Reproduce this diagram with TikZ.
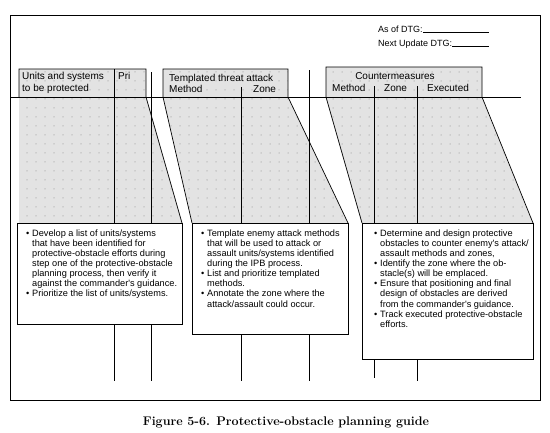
\documentclass[tikz,border=0pt]{standalone}
\usepackage{fontspec}
\usetikzlibrary{patterns.meta}
\newfontfamily\hv{Liberation Sans}
\begin{document}
\begin{tikzpicture}[x=1pt,y=-1pt,
  graybox/.style={fill=black!11,draw=none},
  dotted grid/.style={pattern={Dots[distance=9pt,radius=0.75pt]},pattern color=black!28},
  edge/.style={line width=0.7pt},
  rule/.style={line width=0.9pt},
  infobox/.style={fill=white,draw,line width=0.9pt},
  tabtxt/.style={font=\hv\fontsize{10}{12}\selectfont,inner sep=0pt,anchor=base west},
  boxtxt/.style={font=\hv\fontsize{9.2}{10.1}\selectfont,inner sep=0pt,anchor=north west,align=left},
  hdrtxt/.style={font=\hv\fontsize{9}{10}\selectfont,inner sep=0pt,anchor=base west}]
\useasboundingbox (0,0) rectangle (550,432);
% outer frame
\draw[line width=0.6pt] (10,15) rectangle (540,400);
% gray areas
\fill[graybox] (19,69) -- (146,69) -- (146,97) -- (182,223) -- (19,223) -- cycle;
\fill[graybox] (163,69) -- (288,69) -- (288,97) -- (348,223) -- (192,223) -- (163,97) -- cycle;
\fill[graybox] (326,67) -- (482,67) -- (482,97) -- (533,223) -- (362,223) -- (326,97) -- cycle;
\fill[dotted grid] (19,69) -- (146,69) -- (146,97) -- (182,223) -- (19,223) -- cycle;
\fill[dotted grid] (163,69) -- (288,69) -- (288,97) -- (348,223) -- (192,223) -- (163,97) -- cycle;
\fill[dotted grid] (326,67) -- (482,67) -- (482,97) -- (533,223) -- (362,223) -- (326,97) -- cycle;
% column lines
\draw[rule] (114.5,69) -- (114.5,381);
\draw[rule] (151,72) -- (151,381);
\draw[rule] (241.5,87) -- (241.5,381);
\draw[rule] (309.5,70) -- (309.5,381);
\draw[rule] (374,86) -- (374,378);
\draw[rule] (417,86) -- (417,381);
% horizontal rule
\draw[rule] (11,97) -- (521,97);
% tab outlines
\draw[edge] (19,97) -- (19,69) -- (146,69) -- (146,97) -- (182,223);
\draw[edge] (192,223) -- (163,97) -- (163,69) -- (288,69) -- (288,97) -- (348,223);
\draw[edge] (362,223) -- (326,97) -- (326,67) -- (482,67) -- (482,97) -- (533,223);
% boxes
\draw[infobox] (17,223) rectangle (182,324);
\draw[infobox] (192,223) rectangle (348,334);
\draw[infobox] (362,223) rectangle (533,359);
% header DTG
\node[hdrtxt] (asof) at (378,32) {As of DTG:};
\node[hdrtxt] (next) at (378,46) {Next Update DTG:};
\coordinate (lineend) at (489,0);
\draw[line width=0.5pt] (asof.base east) -- (asof.base east -| lineend);
\draw[line width=0.5pt] (next.base east) -- (next.base east -| lineend);
% tab texts
\node[tabtxt] (t1a) at (22,79.5) {Units and systems};
\node[tabtxt] (t1b) at (22,91.5) {to be protected};
\node[tabtxt] (t1c) at (118,79.5) {Pri};
\node[tabtxt] (t2a) at (169,81) {Templated threat attack};
\node[tabtxt] (t2b) at (169,92.5) {Method};
\node[tabtxt] (t2c) at (253,92.5) {Zone};
\node[tabtxt,anchor=base] (t3a) at (395,79) {Countermeasures};
\node[tabtxt] (t3b) at (332,91.5) {Method};
\node[tabtxt] (t3c) at (384,91.5) {Zone};
\node[tabtxt] (t3d) at (427,91.5) {Executed};
% box texts
\newcommand{\bitem}{\makebox[6pt][l]{\textbullet}}
\newcommand{\bcont}{\hspace*{6pt}}
\node[boxtxt] (b1) at (26,229.5) {\bitem Develop a list of units/systems\\
\bcont that have been identified for\\
\bcont protective-obstacle efforts during\\
\bcont step one of the protective-obstacle\\
\bcont planning process, then verify it\\
\bcont against the commander's guidance.\\
\bitem Prioritize the list of units/systems.};
\node[boxtxt] (b2) at (201,229.5) {\bitem Template enemy attack methods\\
\bcont that will be used to attack or\\
\bcont assault units/systems identified\\
\bcont during the IPB process.\\
\bitem List and prioritize templated\\
\bcont methods.\\
\bitem Annotate the zone where the\\
\bcont attack/assault could occur.};
\node[boxtxt] (b3) at (374,229.5) {\bitem Determine and design protective\\
\bcont obstacles to counter enemy's attack/\\
\bcont assault methods and zones,\\
\bitem Identify the zone where the ob-\\
\bcont stacle(s) will be emplaced.\\
\bitem Ensure that positioning and final\\
\bcont design of obstacles are derived\\
\bcont from the commander's guidance.\\
\bitem Track executed protective-obstacle\\
\bcont efforts.};
% caption
\node[font=\fontsize{12.5}{14}\selectfont\bfseries,anchor=base,inner sep=0pt] (cap) at (286,425) {Figure 5-6. Protective-obstacle planning guide};
\end{tikzpicture}
\end{document}
